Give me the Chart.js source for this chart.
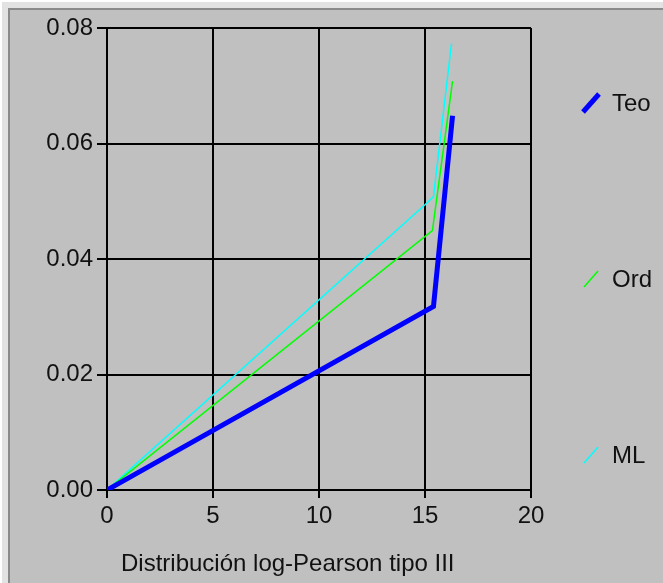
<!DOCTYPE html>
<html>
<head>
<meta charset="utf-8">
<script src="https://cdn.jsdelivr.net/npm/chart.js@4.4.1/dist/chart.umd.min.js"></script>
<style>
  html, body { margin: 0; padding: 0; }
  body { width: 663px; height: 583px; overflow: hidden; position: relative; background: #e2e2e2; }
  #edge { position: absolute; left: 0; top: 0; width: 700px; height: 620px; border-left: 2px solid #fff; border-top: 2px solid #fff; box-sizing: border-box; }
  #frame { position: absolute; left: 8px; top: 8px; width: 700px; height: 620px; background: #c0c0c0; border-left: 2px solid #8a8a8a; border-top: 2px solid #8a8a8a; box-sizing: border-box; }
  #wrap { position: absolute; left: 0; top: 0; width: 663px; height: 583px; }
</style>
</head>
<body>
<div id="edge"></div>
<div id="frame"></div>
<div id="wrap"><canvas id="chart" width="663" height="583"></canvas></div>
<script>
// datos
const xTeo = [0, 15.4, 16.3];
const yTeo = [0, 0.0318, 0.0648];
const xOrd = [0, 15.35, 16.3];
const yOrd = [0, 0.0449, 0.0708];
const xML = [0, 15.0, 15.4, 16.25];
const yML = [0, 0.0494, 0.0508, 0.0773];

const seriesNames = ["Teo", "Ord", "ML"];
const seriesColors = ["#0000ff", "#00ff00", "#00ffff"];
const seriesWidths = [5, 1.5, 1.5];
const xTicks = [0, 5, 10, 15, 20];
const yTicks = [0, 0.02, 0.04, 0.06, 0.08];
const xTitle = "Distribución log-Pearson tipo III";

const FONT = '"Liberation Sans", Arial, sans-serif';
const FSIZE = 24;
const TXT = "#111";

function pts(xs, ys) {
  return xs.map((x, i) => ({ x: x, y: ys[i] }));
}

// leyenda y título dibujados a mano (posiciones como el original)
const extras = {
  id: "extras",
  afterDraw(chart) {
    const ctx = chart.ctx;
    const legendY = [103, 279, 455];
    ctx.save();
    ctx.lineCap = "butt";
    ctx.font = FSIZE + "px " + FONT;
    ctx.textBaseline = "middle";
    ctx.textAlign = "left";
    seriesNames.forEach((name, i) => {
      const y = legendY[i];
      const h = i === 0 ? 9 : 8;
      const w = i === 0 ? 8 : 7;
      ctx.strokeStyle = seriesColors[i];
      ctx.lineWidth = seriesWidths[i];
      ctx.beginPath();
      ctx.moveTo(591 - w, y + h);
      ctx.lineTo(591 + w, y - h);
      ctx.stroke();
      ctx.fillStyle = TXT;
      ctx.fillText(name, 612, y + 1);
    });
    ctx.fillText(xTitle, chart.chartArea.left + 14, 564);
    ctx.restore();
  },
};

const ctx = document.getElementById("chart").getContext("2d");
new Chart(ctx, {
  type: "line",
  data: {
    datasets: [
      { label: seriesNames[0], data: pts(xTeo, yTeo) },
      { label: seriesNames[1], data: pts(xOrd, yOrd) },
      { label: seriesNames[2], data: pts(xML, yML) },
    ].map((d, i) => ({
      ...d,
      borderColor: seriesColors[i],
      borderWidth: seriesWidths[i],
      pointRadius: 0,
      tension: 0,
      fill: false,
    })),
  },
  options: {
    responsive: false,
    animation: false,
    layout: { padding: { top: 28, right: 132, left: 0, bottom: 0 } },
    plugins: { legend: { display: false }, tooltip: { enabled: false } },
    scales: {
      x: {
        type: "linear",
        min: 0,
        max: 20,
        afterBuildTicks: (s) => { s.ticks = xTicks.map((v) => ({ value: v })); },
        afterFit: (s) => { s.height = 93; },
        ticks: { color: TXT, font: { family: FONT, size: FSIZE }, padding: 4 },
        grid: { color: "#000", lineWidth: 2, tickLength: 8 },
        border: { color: "#000", width: 2 },
      },
      y: {
        type: "linear",
        min: 0,
        max: 0.08,
        afterBuildTicks: (s) => { s.ticks = yTicks.map((v) => ({ value: v })); },
        afterFit: (s) => { s.width = 107; },
        ticks: {
          color: TXT,
          font: { family: FONT, size: FSIZE },
          padding: 4,
          callback: (v) => v.toFixed(2),
        },
        grid: { color: "#000", lineWidth: 2, tickLength: 10 },
        border: { color: "#000", width: 2 },
      },
    },
  },
  plugins: [extras],
});
</script>
</body>
</html>
